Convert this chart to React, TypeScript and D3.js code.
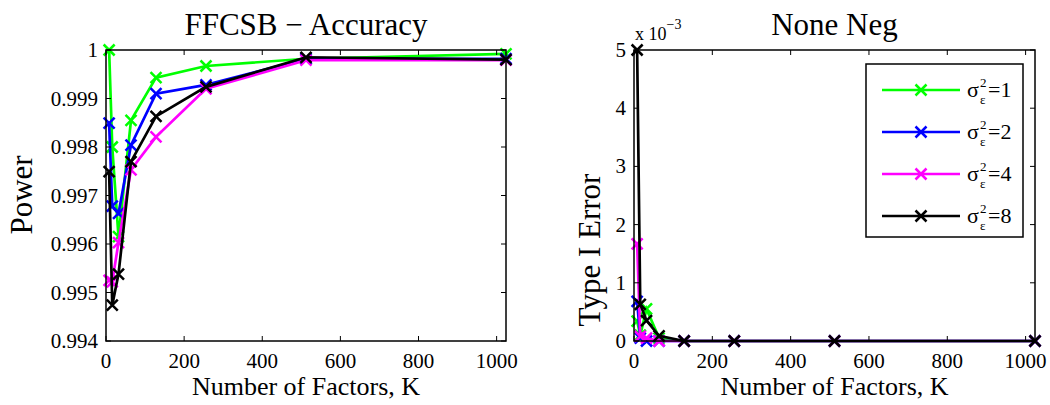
import React from "react";
import * as d3 from "d3";

const K = [8, 16, 32, 64, 128, 256, 512, 1024];
const seriesNames = ["1", "2", "4", "8"];
const seriesColors = ["#00ff00", "#0000ff", "#ff00ff", "#000000"];
const power1 = [1.0, 0.998, 0.99615, 0.99855, 0.99943, 0.99967, 0.99982, 0.99992];
const power2 = [0.99849, 0.99678, 0.99663, 0.99804, 0.9991, 0.99928, 0.99982, 0.99982];
const power4 = [0.99525, 0.99522, 0.99603, 0.99753, 0.99821, 0.9992, 0.99979, 0.99979];
const power8 = [0.99749, 0.99474, 0.99538, 0.9977, 0.99863, 0.99924, 0.99985, 0.9998];
const err1 = [0.34, 0.1, 0.55, 0.05, 0, 0, 0, 0];
const err2 = [0.68, 0.05, 0.0, 0, 0, 0, 0, 0];
const err4 = [1.67, 0.08, 0.05, 0.0, 0, 0, 0, 0];
const err8 = [5.0, 0.63, 0.35, 0.09, 0, 0, 0, 0];
const xTicks = [0, 200, 400, 600, 800, 1000];
const powerTicks = [0.994, 0.995, 0.996, 0.997, 0.998, 0.999, 1];
const errTicks = [0, 1, 2, 3, 4, 5];

const FONT = "'Liberation Serif', 'Times New Roman', serif";

type PanelProps = {
  x0: number;
  x1: number;
  yDomain: [number, number];
  yTicks: number[];
  fmt: (v: number) => string;
  series: number[][];
  title: string;
  ylabel: string;
  ylabelX: number;
  ylabelY: number;
  exponent?: boolean;
  legend?: boolean;
};

function Marker({ cx, cy, color }: { cx: number; cy: number; color: string }) {
  const s = 5.5;
  return (
    <path
      d={`M${cx - s},${cy - s}L${cx + s},${cy + s}M${cx - s},${cy + s}L${cx + s},${cy - s}`}
      stroke={color}
      strokeWidth={2.5}
      fill="none"
    />
  );
}

function Panel(p: PanelProps) {
  const top = 50;
  const bottom = 341;
  const x = d3.scaleLinear().domain([0, 1024]).range([p.x0, p.x1]);
  const y = d3.scaleLinear().domain(p.yDomain).range([bottom, top]);
  const line = d3
    .line<number>()
    .x((_, i) => x(K[i]))
    .y((d) => y(d));
  const tl = 5;
  const cx = (p.x0 + p.x1) / 2;
  return (
    <g>
      {p.series.map((s, si) => (
        <g key={si}>
          <path d={line(s) || ""} stroke={seriesColors[si]} strokeWidth={2.7} fill="none" />
          {s.map((v, i) => (
            <Marker key={i} cx={x(K[i])} cy={y(v)} color={seriesColors[si]} />
          ))}
        </g>
      ))}
      <rect x={p.x0} y={top} width={p.x1 - p.x0} height={bottom - top} fill="none" stroke="#000" strokeWidth={1.5} />
      {xTicks.map((t) => (
        <g key={t}>
          <line x1={x(t)} x2={x(t)} y1={bottom} y2={bottom - tl} stroke="#000" strokeWidth={1} />
          <line x1={x(t)} x2={x(t)} y1={top} y2={top + tl} stroke="#000" strokeWidth={1} />
          <text x={x(t)} y={368} textAnchor="middle" fontSize={21} fontFamily={FONT} fill="#000">
            {t}
          </text>
        </g>
      ))}
      {p.yTicks.map((t) => (
        <g key={t}>
          <line x1={p.x0} x2={p.x0 + tl} y1={y(t)} y2={y(t)} stroke="#000" strokeWidth={1} />
          <line x1={p.x1} x2={p.x1 - tl} y1={y(t)} y2={y(t)} stroke="#000" strokeWidth={1} />
          <text x={p.x0 - 8} y={y(t) + 7} textAnchor="end" fontSize={21} fontFamily={FONT} fill="#000">
            {p.fmt(t)}
          </text>
        </g>
      ))}
      <text x={cx} y={35} textAnchor="middle" fontSize={31} fontFamily={FONT} fill="#000">
        {p.title}
      </text>
      <text x={cx} y={395} textAnchor="middle" fontSize={26} fontFamily={FONT} fill="#000">
        Number of Factors, K
      </text>
      <text
        transform={`translate(${p.ylabelX},${p.ylabelY}) rotate(-90)`}
        textAnchor="middle"
        fontSize={31}
        fontFamily={FONT}
        fill="#000"
      >
        {p.ylabel}
      </text>
      {p.exponent && (
        <text x={p.x0 + 1} y={40} fontSize={18} fontFamily={FONT} fill="#000">
          x 10
          <tspan dy={-11} fontSize={14}>
            −3
          </tspan>
        </text>
      )}
      {p.legend && (
        <g>
          <rect x={866} y={64} width={157} height={173} fill="#fff" stroke="#000" strokeWidth={1.5} />
          {seriesNames.map((n, i) => {
            const ly = 90 + i * 42;
            return (
              <g key={n}>
                <line x1={882} x2={960} y1={ly} y2={ly} stroke={seriesColors[i]} strokeWidth={2.7} />
                <Marker cx={921} cy={ly} color={seriesColors[i]} />
                <text x={967} y={ly + 7} fontSize={22} fontFamily={FONT} fill="#000">
                  σ
                </text>
                <text x={980} y={ly - 3} fontSize={13} fontFamily={FONT} fill="#000">
                  2
                </text>
                <text x={980} y={ly + 14} fontSize={13} fontFamily={FONT} fill="#000">
                  ε
                </text>
                <text x={988} y={ly + 7} fontSize={22} fontFamily={FONT} fill="#000">
                  ={n}
                </text>
              </g>
            );
          })}
        </g>
      )}
    </g>
  );
}

export default function App() {
  return (
    <svg
      width={1050}
      height={405}
      style={{ position: "absolute", left: 0, top: 0, background: "#fff" }}
    >
      <rect x={0} y={0} width={1050} height={405} fill="#fff" />
      <Panel
        x0={106}
        x1={506}
        yDomain={[0.994, 1]}
        yTicks={powerTicks}
        fmt={(v) => (v === 1 ? "1" : v.toFixed(3))}
        series={[power1, power2, power4, power8]}
        title="FFCSB − Accuracy"
        ylabel="Power"
        ylabelX={32}
        ylabelY={195}
      />
      <Panel
        x0={634}
        x1={1035}
        yDomain={[0, 5]}
        yTicks={errTicks}
        fmt={(v) => String(v)}
        series={[err1, err2, err4, err8]}
        title="None Neg"
        ylabel="Type I Error"
        ylabelX={600}
        ylabelY={250}
        exponent
        legend
      />
    </svg>
  );
}
